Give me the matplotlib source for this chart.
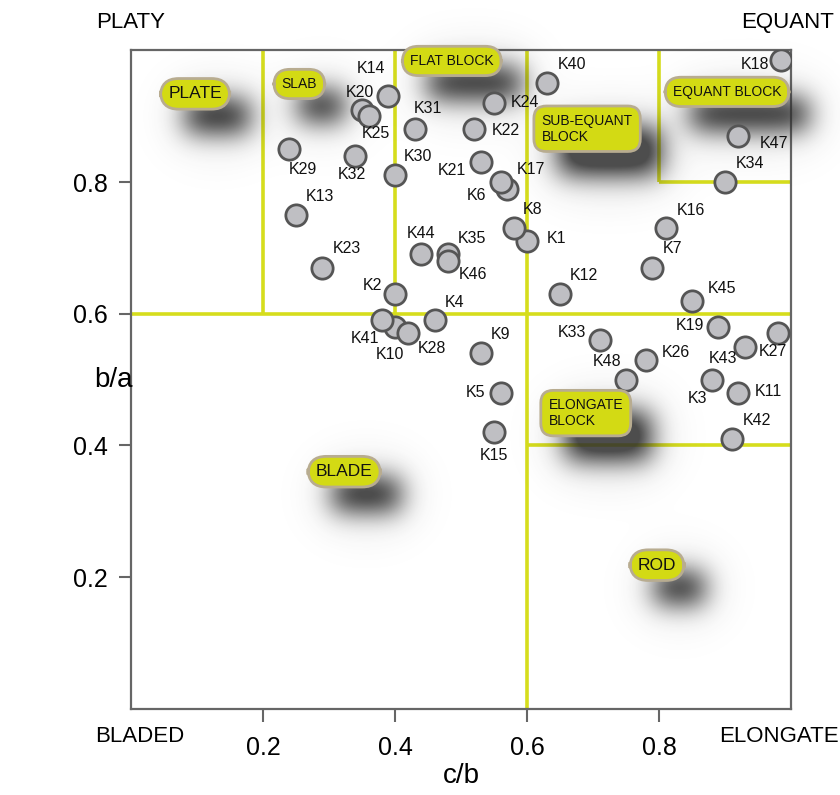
import matplotlib
matplotlib.use("Agg")
import matplotlib.pyplot as plt
import numpy as np

plt.rcParams["font.family"] = ["Liberation Sans", "DejaVu Sans"]

# ─── dados ────────────────────────────────────────────────────────────────────
names = ["K1", "K2", "K3", "K4", "K5", "K6", "K7", "K8", "K9", "K10",
         "K11", "K12", "K13", "K14", "K15", "K16", "K17", "K18", "K19", "K20",
         "K21", "K22", "K23", "K24", "K25", "K26", "K27", "K28", "K29", "K30",
         "K31", "K32", "K33", "K34", "K35", "K40", "K41", "K42", "K43", "K44",
         "K45", "K46", "K47", "K48"]
cb = [0.60, 0.40, 0.88, 0.46, 0.56, 0.57, 0.79, 0.58, 0.53, 0.40,
      0.92, 0.65, 0.25, 0.39, 0.55, 0.81, 0.56, 0.985, 0.89, 0.35,
      0.53, 0.52, 0.29, 0.55, 0.36, 0.78, 0.98, 0.42, 0.24, 0.40,
      0.43, 0.34, 0.71, 0.90, 0.48, 0.63, 0.38, 0.91, 0.93, 0.44,
      0.85, 0.48, 0.92, 0.75]
ba = [0.71, 0.63, 0.50, 0.59, 0.48, 0.79, 0.67, 0.73, 0.54, 0.58,
      0.48, 0.63, 0.75, 0.93, 0.42, 0.73, 0.80, 0.985, 0.58, 0.91,
      0.83, 0.88, 0.67, 0.92, 0.90, 0.53, 0.57, 0.57, 0.85, 0.81,
      0.88, 0.84, 0.56, 0.80, 0.69, 0.95, 0.59, 0.41, 0.55, 0.69,
      0.62, 0.68, 0.87, 0.50]

# limites das classes (c/b, b/a)
bound_x = [(0, 1), (0.2, 0.2), (0.4, 0.4), (0.6, 0.6), (0.8, 0.8), (0.8, 1), (0.6, 1)]
bound_y = [(0.6, 0.6), (0.6, 1), (0.6, 1), (0, 1), (0.8, 1), (0.8, 0.8), (0.4, 0.4)]

zone_names = ["PLATE", "SLAB", "FLAT BLOCK", "SUB-EQUANT\nBLOCK", "EQUANT BLOCK",
              "ELONGATE\nBLOCK", "BLADE", "ROD"]

# ─── layout ───────────────────────────────────────────────────────────────────
# deslocamento dos rótulos (px, y para baixo)
lab_off = {
    "K1": (29, -3), "K2": (-23, -8), "K3": (-14, 19), "K4": (20, -18), "K5": (-25, 0),
    "K6": (-31, 7), "K7": (20, -19), "K8": (19, -19), "K9": (20, -19), "K10": (-5, 28),
    "K11": (30, -1), "K12": (24, -18), "K13": (24, -18), "K14": (-17, -28), "K15": (0, 23),
    "K16": (25, -18), "K17": (30, -13), "K18": (-26, 4), "K19": (-28, -1), "K20": (-2, -17),
    "K21": (-29, 8), "K22": (32, 1), "K23": (24, -19), "K24": (31, -1), "K25": (7, 17),
    "K26": (30, -7), "K27": (-5, 18), "K28": (24, 15), "K29": (13, 20), "K30": (23, -19),
    "K31": (13, -21), "K32": (-4, 19), "K33": (-28, -8), "K34": (25, -19), "K35": (24, -16),
    "K40": (25, -19), "K41": (-17, 18), "K42": (25, -18), "K43": (-22, 12), "K44": (0, -21),
    "K45": (30, -12), "K46": (25, 13), "K47": (36, 8), "K48": (-19, -18),
}
zone_pos = [(0.097, 0.934), (0.255, 0.949), (0.486, 0.984), (0.691, 0.881),
            (0.903, 0.937), (0.689, 0.449), (0.323, 0.360), (0.797, 0.218)]
zone_fs = [12.5, 10, 10, 10, 10, 10, 12.5, 12.5]
zone_pad = [0.45, 0.55, 0.55, 0.55, 0.55, 0.55, 0.45, 0.45]
zone_round = [1.05, 1.15, 1.15, 0.9, 1.15, 0.9, 1.05, 1.05]

LINE = "#d6dd1c"
FILL = "#d3da14"
EDGE = "#b8ac90"
SPINE = "#666666"

fig = plt.figure(figsize=(8.4, 7.95), dpi=100)
ax = fig.add_axes([0.156, 0.1086, 0.7857, 0.828])
ax.set_xlim(0, 1)
ax.set_ylim(0, 1)

for xs, ys in zip(bound_x, bound_y):
    ax.plot(xs, ys, color=LINE, lw=2.6, zorder=2, solid_capstyle="butt")

zone_txt = []
for txt, (zx, zy), fs, pd, rr in zip(zone_names, zone_pos, zone_fs, zone_pad, zone_round):
    t = ax.text(zx, zy, txt, fontsize=fs, ha="center", va="center",
                multialignment="left", color="#111111", zorder=6,
                bbox=dict(boxstyle=f"round,pad={pd},rounding_size={rr}",
                          fc=FILL, ec=EDGE, lw=2))
    zone_txt.append(t)

ax.scatter(cb, ba, s=235, c="#bfbfc3", edgecolors="#555555", linewidths=2, zorder=4)
for n, x, y in zip(names, cb, ba):
    dx, dy = lab_off[n]
    ax.annotate(n, (x, y), xytext=(dx, -dy), textcoords="offset pixels",
                ha="center", va="center", fontsize=11.5, color="#111111", zorder=5)

ax.set_xticks([0.2, 0.4, 0.6, 0.8])
ax.set_yticks([0.2, 0.4, 0.6, 0.8])
ax.set_xticklabels(["0.2", "0.4", "0.6", "0.8"])
ax.set_yticklabels(["0.2", "0.4", "0.6", "0.8"])
ax.tick_params(direction="out", length=9, width=1.5, color=SPINE, labelsize=18)
ax.tick_params(axis="x", pad=11)
ax.tick_params(axis="y", pad=8)
for sp in ax.spines.values():
    sp.set_color(SPINE)
    sp.set_linewidth(1.6)

fig.text(0.1345, 0.522, "b/a", fontsize=20, ha="center", va="center")
fig.text(0.549, 0.024, "c/b", fontsize=20, ha="center", va="center")
fig.text(0.114, 0.972, "PLATY", fontsize=16, ha="left", va="center")
fig.text(0.993, 0.972, "EQUANT", fontsize=16, ha="right", va="center")
fig.text(0.113, 0.073, "BLADED", fontsize=16, ha="left", va="center")
fig.text(0.999, 0.073, "ELONGATE", fontsize=16, ha="right", va="center")

# ─── sombras desfocadas por trás das etiquetas ───────────────────────────────
fig.canvas.draw()
rend = fig.canvas.get_renderer()
axbb = ax.get_window_extent(rend)
W, H = int(round(axbb.width)), int(round(axbb.height))
pad = 70
core = np.zeros((H + 2 * pad, W + 2 * pad))
for t in zone_txt:
    bb = t.get_bbox_patch().get_window_extent(rend)
    x0 = int(bb.x0 - axbb.x0 + pad + 26)
    x1 = int(bb.x1 - axbb.x0 + pad + 20)
    y0 = int(bb.y0 - axbb.y0 + pad - 22)
    y1 = int(bb.y1 - axbb.y0 + pad - 22)
    core[max(y0, 0):y1, max(x0, 0):x1] = 1.0


def blur(a, sig):
    k = np.arange(-3 * sig, 3 * sig + 1)
    g = np.exp(-k ** 2 / (2.0 * sig ** 2))
    g /= g.sum()
    a = np.apply_along_axis(lambda r: np.convolve(r, g, mode="same"), 0, a)
    return np.apply_along_axis(lambda r: np.convolve(r, g, mode="same"), 1, a)


shade = 1.0 * blur(core, 13) + 0.3 * blur(core, 28)

img = np.zeros(shade.shape + (4,))
img[..., :3] = 0.18
img[..., 3] = np.clip(shade, 0, 0.85)
ax.imshow(img, origin="lower", aspect="auto", interpolation="bilinear",
          extent=(-pad / W, 1 + pad / W, -pad / H, 1 + pad / H),
          zorder=3, clip_on=False)
ax.set_xlim(0, 1)
ax.set_ylim(0, 1)

fig.savefig("out.png", dpi=100, facecolor="white")
